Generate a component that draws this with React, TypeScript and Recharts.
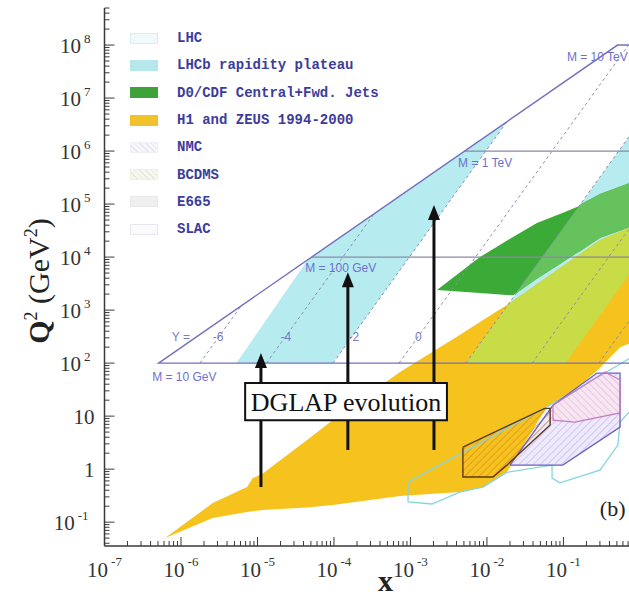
import React from "react";
import {
  ComposedChart,
  XAxis,
  YAxis,
  Line,
  Area,
  ReferenceLine,
  ReferenceArea,
  ReferenceDot,
  Legend,
} from "recharts";

// plot range (x, Q2 in GeV^2)
const X_MIN = 1e-7;
const X_MAX = 0.72;
const Q2_MIN = 0.0355;
const Q2_MAX = 5.0e8;

// decades that carry a tick label
const xDecades = [-7, -6, -5, -4, -3, -2, -1];
const yDecades = [-1, 0, 1, 2, 3, 4, 5, 6, 7, 8];

// filled regions: [x, Q2 low, Q2 high]
const h1Zeus = [
  [6.2e-7, 0.05, 0.05],
  [2.6e-6, 0.12, 0.23],
  [7.3e-6, 0.155, 0.46],
  [8.7e-6, 0.16, 0.68],
  [1.15e-5, 0.17, 0.81],
  [4.4e-5, 0.19, 3.5],
  [9.7e-5, 0.21, 8.5],
  [7.3e-4, 0.31, 68],
  [4.4e-3, 0.37, 340],
  [8.9e-3, 0.46, 650],
  [0.0182, 0.87, 1250],
  [0.061, 15, 4200],
  [0.111, 23, 7700],
  [0.3, 81, 2.1e4],
  [0.55, 200, 3.0e4],
  [0.95, 270, 4.1e4],
];
const lhcbLow = [
  [5.3e-6, 100, 100],
  [4.54e-5, 100, 8900],
  [9.7e-5, 100, 1.9e4],
  [0.0183, 3.6e6, 3.6e6],
];
const lhcbHigh = [
  [5.3e-3, 100, 100],
  [0.106, 100, 4.0e4],
  [1.0, 8900, 3.6e6],
];
const lhcbOnH1 = [
  [5.3e-3, 100, 100],
  [0.019, 100, 1300],
  [0.061, 100, 4200],
  [0.106, 100, 7400],
  [0.3, 800, 2.1e4],
  [0.55, 2700, 3.0e4],
  [0.95, 8000, 4.1e4],
];
const d0cdf = [
  [2.22e-3, 2400, 2400],
  [8.1e-3, 2100, 1.0e4],
  [0.0219, 1900, 2.4e4],
  [0.045, 3900, 4.4e4],
  [0.09, 7400, 6.5e4],
  [0.15, 1.2e4, 8.8e4],
  [0.3, 2.3e4, 1.55e5],
  [0.95, 4.2e4, 2.85e5],
];
const d0cdfOnLhcb = [
  [0.023, 1950, 1950],
  [0.045, 3900, 7300],
  [0.09, 7400, 2.9e4],
  [0.15, 1.2e4, 8.1e4],
  [0.168, 1.3e4, 1.0e5],
  [0.3, 2.3e4, 1.55e5],
  [0.95, 4.2e4, 2.85e5],
];
const nmcFill = [
  [4.85e-3, 0.71, 2.6],
  [0.012, 0.71, 4.8],
  [0.0182, 1.19, 6.4],
  [0.057, 5.5, 14],
  [0.067, 6.8, 14],
];
const bcdmsFill = [
  [0.02, 1.19, 1.19],
  [0.073, 1.19, 16],
  [0.098, 1.19, 22],
  [0.274, 3.2, 65],
  [0.55, 6.2, 65],
];
const slacFill = [
  [0.073, 8.4, 16],
  [0.141, 7.7, 30],
  [0.35, 10, 68],
  [0.55, 11.5, 48],
];

// outlines: [x, Q2]
const e665Edge = [
  [9.3e-4, 0.57], [0.061, 15], [0.405, 74], [1.0, 160], [1.0, 20], [0.55, 7.7],
  [0.515, 2.85], [0.3, 0.96], [0.09, 0.55], [0.071, 0.68], [0.071, 1.19],
  [0.0182, 0.87], [8.9e-3, 0.46], [4.4e-3, 0.37], [1.91e-3, 0.22], [9.3e-4, 0.24], [9.3e-4, 0.57],
];
const nmcEdge = [
  [4.85e-3, 2.6], [0.057, 14], [0.067, 14], [0.067, 6.8], [0.0182, 1.19],
  [0.012, 0.71], [4.85e-3, 0.71], [4.85e-3, 2.6],
];
const bcdmsEdge = [
  [0.02, 1.19], [0.098, 1.19], [0.55, 6.2], [0.55, 65], [0.274, 65], [0.073, 16], [0.02, 1.19],
];
const slacEdge = [
  [0.073, 16], [0.073, 8.4], [0.141, 7.7], [0.55, 11.5], [0.55, 48], [0.35, 68], [0.073, 16],
];
const lhcEdge = [[1.0, 100], [5.1e-7, 100], [0.51, 1e8], [1.0, 1e8]];
const mass1TeV = [[5.1e-3, 1e6], [1.0, 1e6]];
const mass100GeV = [[5.1e-5, 1e4], [1.0, 1e4]];
const rapidityLines = [
  [[1.77e-6, 100], [6.1e-6, 1200]],
  [[1.31e-5, 100], [3.35e-4, 6.6e4]],
  [[9.7e-5, 100], [0.0183, 3.6e6]],
  [[7.1e-4, 100], [0.71, 1e8]],
  [[5.3e-3, 100], [1.0, 3.6e6]],
  [[0.039, 100], [1.0, 6.6e4]],
  [[0.29, 100], [1.0, 1200]],
];

// text on the plot: [text, x, Q2]
const massLabels = [
  ["M = 10 GeV", 4.2e-7, 55],
  ["M = 100 GeV", 4.2e-5, 6200],
  ["M = 1 TeV", 4.2e-3, 6.0e5],
  ["M = 10 TeV", 0.111, 6.0e7],
];
const rapidityLabels = [
  ["Y =", 7.6e-7, 310],
  ["-6", 2.6e-6, 310],
  ["-4", 2.0e-5, 310],
  ["-2", 1.55e-4, 310],
  ["0", 1.15e-3, 310],
];

// DGLAP arrows: [x, Q2 from, Q2 to]
const dglapArrows = [
  [1.11e-5, 0.46, 155],
  [1.52e-4, 2.3, 5200],
  [2.03e-3, 2.3, 9.6e4],
];
const dglapBox = { x1: 6.9e-6, x2: 3.0e-3, lo: 8.4, hi: 42 };

const legendItems = [
  { name: "LHC", bg: "#f0fafb", border: "#d8eef0" },
  { name: "LHCb rapidity plateau", bg: "#b6e7ea", border: "#b6e7ea" },
  { name: "D0/CDF Central+Fwd. Jets", bg: "#3ea23a", border: "#3ea23a" },
  { name: "H1 and ZEUS 1994-2000", bg: "#f2c22c", border: "#f2c22c" },
  { name: "NMC", bg: "repeating-linear-gradient(45deg, #e6e6f2 0 1px, #f7f7fb 1px 4px)", border: "#efeff6" },
  { name: "BCDMS", bg: "repeating-linear-gradient(45deg, #e8e8da 0 1px, #f7f7f1 1px 4px)", border: "#efefe4" },
  { name: "E665", bg: "#f0f0f0", border: "#e9e9e9" },
  { name: "SLAC", bg: "#fbfbfd", border: "#e6e6ee" },
];

const buildTicks = (decades: number[], lo: number, hi: number) => {
  const t: number[] = [];
  decades.forEach((d) => {
    for (let m = 1; m < 10; m++) {
      const v = m * Math.pow(10, d);
      if (v >= lo && v <= hi) t.push(v);
    }
  });
  return t;
};
const xTicks = buildTicks([...xDecades], X_MIN, X_MAX);
const yTicks = buildTicks([-2, ...yDecades], Q2_MIN, Q2_MAX);

const range = (rows: number[][]) => rows.map(([x, lo, hi]) => ({ x, r: [lo, hi] }));
const pts = (rows: number[][]) => rows.map(([x, y]) => ({ x, y }));

const serif = '"Liberation Serif", "Times New Roman", serif';
const axisColor = "#3a3a3a";

const decadeOf = (v: number) => {
  const l = Math.log10(v);
  const e = Math.round(l);
  return Math.abs(l - e) < 1e-6 ? e : null;
};

const XTick = (props: any) => {
  const { x, y, payload } = props;
  const e = decadeOf(payload.value);
  const major = e !== null && xDecades.includes(e);
  return (
    <g>
      <line x1={x} y1={y} x2={x} y2={y - (major ? 9 : 5)} stroke={axisColor} />
      {major && (
        <text x={x} y={y + 31} textAnchor="middle" fontFamily={serif} fontSize={21} fill="#333">
          10
          <tspan dx={3} dy={-11} fontSize={13}>
            {e}
          </tspan>
        </text>
      )}
    </g>
  );
};

const YTick = (props: any) => {
  const { x, y, payload } = props;
  const e = decadeOf(payload.value);
  const major = e !== null && yDecades.includes(e);
  let label: React.ReactNode = null;
  if (major) {
    if (e === 0) label = "1";
    else if (e === 1) label = "10";
    else
      label = (
        <>
          10
          <tspan dx={3} dy={-10} fontSize={13}>
            {e}
          </tspan>
        </>
      );
  }
  return (
    <g>
      <line x1={x} y1={y} x2={x + (major ? 10 : 5)} y2={y} stroke={axisColor} />
      {major && (
        <text x={x - (e !== null && e > 1 ? 14 : e === -1 ? 16 : 10)} y={y + 8} textAnchor="end" fontFamily={serif} fontSize={21} fill="#333">
          {label}
        </text>
      )}
    </g>
  );
};

const XTitle = (props: any) => {
  const vb = props.viewBox ?? { x: 104.5, y: 546, width: 524.5, height: 54 };
  return (
    <text x={vb.x + 281} y={vb.y + 45} textAnchor="middle" fontFamily={serif} fontSize={30} fontWeight={700} fill="#222">
      x
    </text>
  );
};

const YTitle = (props: any) => {
  const vb = props.viewBox ?? { x: 0, y: 8, width: 104.5, height: 538 };
  const cx = vb.x + 49;
  const cy = vb.y + vb.height / 2 + 4;
  return (
    <text x={cx} y={cy} transform={`rotate(-90, ${cx}, ${cy})`} textAnchor="middle" fontFamily={serif} fontSize={30} fill="#222">
      <tspan fontWeight={700}>Q</tspan>
      <tspan dy={-12} fontSize={18}>2</tspan>
      <tspan dy={12}> (GeV</tspan>
      <tspan dy={-12} fontSize={18}>2</tspan>
      <tspan dy={12}>)</tspan>
    </text>
  );
};

const Shaft = (props: any) => {
  const { x1, y1, x2, y2 } = props;
  return <line x1={x1} y1={y1} x2={x2} y2={y2} stroke="#111" strokeWidth={3} />;
};

const Arrow = (props: any) => {
  const { x1, y1, x2, y2 } = props;
  const head = 15;
  return (
    <g>
      <line x1={x1} y1={y1} x2={x2} y2={y2 + head - 2} stroke="#111" strokeWidth={3} />
      <polygon points={`${x2},${y2} ${x2 - 6},${y2 + head} ${x2 + 6},${y2 + head}`} fill="#111" />
    </g>
  );
};

const renderLegend = () => (
  <div
    style={{
      fontFamily: '"Liberation Mono", "DejaVu Sans Mono", monospace',
      fontSize: 14,
      fontWeight: 700,
      color: "#3c3c9c",
    }}
  >
    {legendItems.map((it) => (
      <div key={it.name} style={{ display: "flex", alignItems: "center", height: 27.3 }}>
        <span
          style={{
            display: "inline-block",
            width: 28,
            height: 11,
            background: it.bg,
            border: `1px solid ${it.border}`,
            boxSizing: "border-box",
            marginRight: 19,
          }}
        />
        <span style={{ whiteSpace: "pre" }}>{it.name}</span>
      </div>
    ))}
  </div>
);

const fillArea = (key: string, rows: number[][], fill: string) => (
  <Area
    key={key}
    data={range(rows)}
    dataKey="r"
    type="linear"
    fill={fill}
    fillOpacity={1}
    stroke="none"
    dot={false}
    activeDot={false}
    legendType="none"
    isAnimationActive={false}
  />
);

const edgeLine = (key: string, rows: number[][], stroke: string, width = 1.2, dash?: string) => (
  <Line
    key={key}
    data={pts(rows)}
    dataKey="y"
    type="linear"
    stroke={stroke}
    strokeWidth={width}
    strokeDasharray={dash}
    dot={false}
    activeDot={false}
    legendType="none"
    isAnimationActive={false}
  />
);

const App = () => {
  return (
    <div style={{ position: "absolute", left: 0, top: 0 }}>
      <ComposedChart width={629} height={600} margin={{ top: 8, right: 0, bottom: 0, left: 0 }}>
        <defs>
          <pattern id="hatchNmc" width="5" height="5" patternUnits="userSpaceOnUse" patternTransform="rotate(45)">
            <line x1="0" y1="0" x2="0" y2="5" stroke="#d88a1c" strokeWidth="1.3" />
          </pattern>
          <pattern id="hatchBcdms" width="5" height="5" patternUnits="userSpaceOnUse" patternTransform="rotate(45)">
            <rect width="5" height="5" fill="#eee9fb" />
            <line x1="0" y1="0" x2="0" y2="5" stroke="#b4a6e4" strokeWidth="1" />
          </pattern>
          <pattern id="hatchSlac" width="5" height="5" patternUnits="userSpaceOnUse" patternTransform="rotate(-45)">
            <rect width="5" height="5" fill="#f6e6f2" />
            <line x1="0" y1="0" x2="0" y2="5" stroke="#dca6d2" strokeWidth="1" />
          </pattern>
        </defs>

        <XAxis
          type="number"
          dataKey="x"
          scale="log"
          domain={[X_MIN, X_MAX]}
          allowDataOverflow
          ticks={xTicks}
          interval={0}
          tickLine={false}
          tickSize={0}
          tickMargin={0}
          tick={(p: any) => <XTick {...p} />}
          axisLine={{ stroke: axisColor, strokeWidth: 1.5 }}
          height={54}
          label={{ content: XTitle }}
        />
        <XAxis
          xAxisId="top"
          orientation="top"
          type="number"
          dataKey="x"
          scale="log"
          domain={[X_MIN, X_MAX]}
          allowDataOverflow
          height={0}
          tick={false}
          tickLine={false}
          axisLine={{ stroke: "#9a9a9a", strokeWidth: 1.5 }}
        />
        <YAxis
          type="number"
          scale="log"
          domain={[Q2_MIN, Q2_MAX]}
          allowDataOverflow
          ticks={yTicks}
          interval={0}
          tickLine={false}
          tickSize={0}
          tickMargin={0}
          tick={(p: any) => <YTick {...p} />}
          axisLine={{ stroke: axisColor, strokeWidth: 1.5 }}
          width={104.5}
          label={{ content: YTitle }}
        />

        {fillArea("lhcbLow", lhcbLow, "#b6ecf0")}
        {fillArea("lhcbHigh", lhcbHigh, "#b6ecf0")}
        {fillArea("h1", h1Zeus, "#f6c31e")}
        {fillArea("lhcbH1", lhcbOnH1, "#c8dc48")}
        {fillArea("d0", d0cdf, "#3caa37")}
        {fillArea("d0lhcb", d0cdfOnLhcb, "#66c25c")}
        {fillArea("bcdms", bcdmsFill, "url(#hatchBcdms)")}
        {fillArea("slac", slacFill, "url(#hatchSlac)")}
        {fillArea("nmc", nmcFill, "url(#hatchNmc)")}

        {edgeLine("e665", e665Edge, "#86d4de", 1.3)}
        {edgeLine("bcdmsEdge", bcdmsEdge, "#6a62c0", 1.3)}
        {edgeLine("slacEdge", slacEdge, "#c47cc0", 1.2)}
        {edgeLine("nmcEdge", nmcEdge, "#5a3a1c", 1.4)}

        {rapidityLines.map((r, i) => edgeLine(`rap${i}`, r, "#8c8cb4", 1, "3 3"))}
        {edgeLine("m100", mass100GeV, "#8a8aa4", 1.2)}
        {edgeLine("m1tev", mass1TeV, "#8a8aa4", 1.2)}
        {edgeLine("lhc", lhcEdge, "#7470bc", 1.4)}

        {massLabels.map(([t, x, y]) => (
          <ReferenceDot
            key={t as string}
            x={x as number}
            y={y as number}
            r={0}
            stroke="none"
            fill="none"
            label={{ value: t, position: "right", offset: 0, fontSize: 12, fill: "#7070cc", fontFamily: '"Liberation Sans", sans-serif' }}
          />
        ))}
        {rapidityLabels.map(([t, x, y]) => (
          <ReferenceDot
            key={t as string}
            x={x as number}
            y={y as number}
            r={0}
            stroke="none"
            fill="none"
            label={{ value: t, position: "right", offset: 0, fontSize: 12, fill: "#7a7ac4", fontFamily: '"Liberation Sans", sans-serif' }}
          />
        ))}

        {/* arrows run up to the box and resume above it */}
        {dglapArrows.map(([x, a, b], i) => (
          <ReferenceLine
            key={`shaft${i}`}
            segment={[{ x, y: a }, { x, y: Math.min(b, dglapBox.lo) }]}
            shape={Shaft}
          />
        ))}
        {dglapArrows.map(([x, a, b], i) => (
          <ReferenceLine key={`arr${i}`} segment={[{ x, y: dglapBox.hi }, { x, y: b }]} shape={Arrow} />
        ))}
        <ReferenceArea
          x1={dglapBox.x1}
          x2={dglapBox.x2}
          y1={dglapBox.lo}
          y2={dglapBox.hi}
          fill="#ffffff"
          fillOpacity={1}
          stroke="#111"
          strokeWidth={2}
          label={{ value: "DGLAP evolution", position: "center", fontSize: 26, fill: "#111", fontFamily: serif }}
        />
        <ReferenceDot
          x={0.44}
          y={0.185}
          r={0}
          stroke="none"
          fill="none"
          label={{ value: "(b)", position: "center", fontSize: 22, fill: "#222", fontFamily: serif }}
        />

        <Legend
          layout="vertical"
          align="center"
          verticalAlign="middle"
          content={renderLegend}
          wrapperStyle={{ left: 130, top: 24.5, width: 260, height: 220 }}
        />
      </ComposedChart>
    </div>
  );
};

export default App;
